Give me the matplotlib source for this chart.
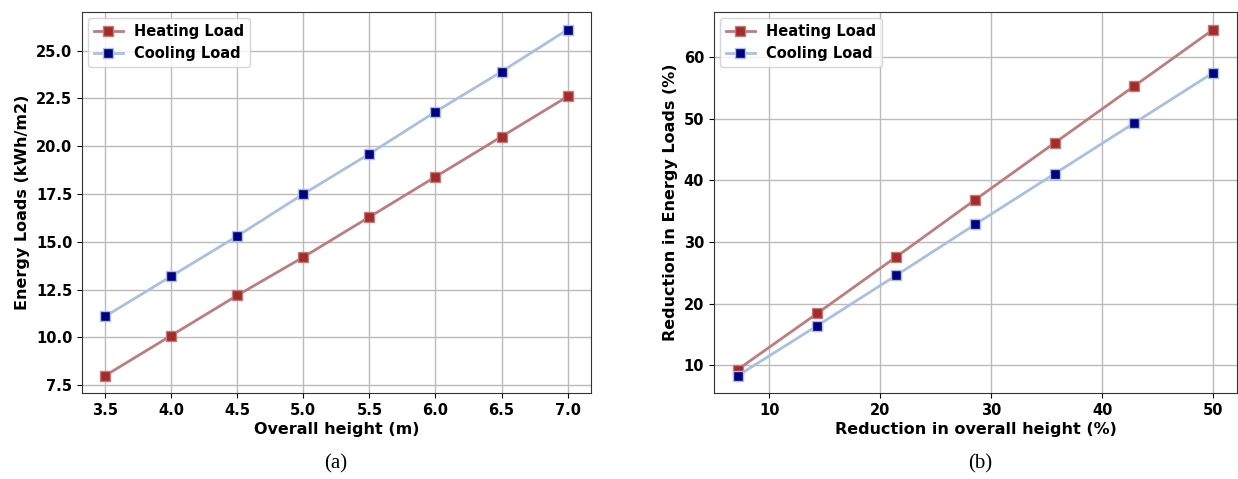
import matplotlib.pyplot as plt

# (a) loads vs overall height
height = [3.5, 4.0, 4.5, 5.0, 5.5, 6.0, 6.5, 7.0]
heating = [8.0, 10.1, 12.2, 14.2, 16.3, 18.4, 20.5, 22.6]
cooling = [11.1, 13.2, 15.3, 17.5, 19.6, 21.8, 23.9, 26.1]

# (b) reduction relative to the 7.0 m case
height_red = [7.14, 14.29, 21.43, 28.57, 35.71, 42.86, 50.0]
heating_red = [9.3, 18.4, 27.6, 36.9, 46.1, 55.3, 64.5]
cooling_red = [8.3, 16.4, 24.6, 32.9, 41.1, 49.3, 57.5]

heat_line, heat_mark = "#be7d7d", "#a52a2a"
cool_line, cool_mark = "#a9c0e0", "#000080"

plt.rcParams["font.family"] = "DejaVu Sans"
plt.rcParams["font.weight"] = "bold"

fig = plt.figure(figsize=(12.38, 4.79), dpi=100)
ax1 = fig.add_axes([0.0662, 0.1795, 0.411, 0.795])
ax2 = fig.add_axes([0.5767, 0.1795, 0.4225, 0.795])


def draw(ax, x, h, c, xlabel, ylabel):
    ax.plot(x, h, color=heat_line, lw=2, marker="s", ms=7,
            mfc=heat_mark, mec=heat_line, label="Heating Load")
    ax.plot(x, c, color=cool_line, lw=2, marker="s", ms=7,
            mfc=cool_mark, mec=cool_line, label="Cooling Load")
    ax.grid(True, color="#bbbbbb", lw=1)
    ax.set_axisbelow(True)
    ax.set_xlabel(xlabel, fontsize=11.5, fontweight="bold", labelpad=3)
    ax.set_ylabel(ylabel, fontsize=11.5, fontweight="bold")
    ax.tick_params(labelsize=10.5)
    for lbl in ax.get_xticklabels() + ax.get_yticklabels():
        lbl.set_fontweight("bold")
    for sp in ax.spines.values():
        sp.set_color("#333333")
    ax.legend(loc="upper left", prop={"weight": "bold", "size": 10.5},
              handlelength=2, borderaxespad=0.4)


draw(ax1, height, heating, cooling, "Overall height (m)", "Energy Loads (kWh/m2)")
draw(ax2, height_red, heating_red, cooling_red,
     "Reduction in overall height (%)", "Reduction in Energy Loads (%)")
ax2.set_xticks([10, 20, 30, 40, 50])

fig.text(0.271, 0.022, "(a)", family="Liberation Serif", fontsize=15,
         fontweight="normal", ha="center")
fig.text(0.792, 0.022, "(b)", family="Liberation Serif", fontsize=15,
         fontweight="normal", ha="center")

fig.savefig("out.png", dpi=100)
